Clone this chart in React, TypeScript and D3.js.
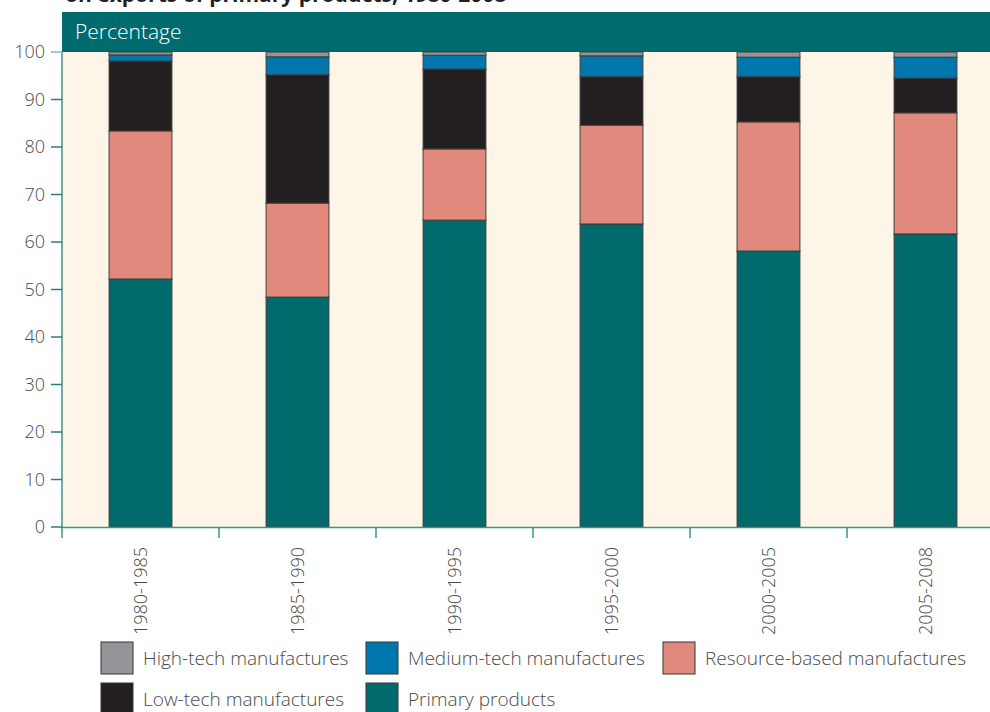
import React from "react";
import * as d3 from "d3";

const categories = ["1980-1985", "1985-1990", "1990-1995", "1995-2000", "2000-2005", "2005-2008"];
const primary = [52.2, 48.4, 64.6, 63.8, 58.1, 61.7];
const resource = [31.2, 19.8, 15.0, 20.8, 27.2, 25.5];
const lowTech = [14.7, 27.0, 16.8, 10.2, 9.5, 7.3];
const mediumTech = [1.3, 3.8, 2.9, 4.4, 4.1, 4.4];
const highTech = [0.6, 1.0, 0.7, 0.8, 1.1, 1.1];
const yTicks = [0, 10, 20, 30, 40, 50, 60, 70, 80, 90, 100];

const seriesNames = ["Primary products", "Resource-based manufactures", "Low-tech manufactures", "Medium-tech manufactures", "High-tech manufactures"];
const seriesColors = ["#006a6d", "#e0897c", "#231f20", "#0077ac", "#939598"];

export default function App() {
  const left = 62, right = 1004, top = 52, bottom = 527;
  const x = d3.scaleBand().domain(categories).range([left, right]).paddingInner(0.6).paddingOuter(0.3);
  const xOuter = d3.scaleBand().domain(categories).range([left, right]);
  const y = d3.scaleLinear().domain([0, 100]).range([bottom, top]);
  const rows = categories.map((c, i) => ({ cat: c, s0: primary[i], s1: resource[i], s2: lowTech[i], s3: mediumTech[i], s4: highTech[i] }));
  const stack = d3.stack<any>().keys(["s0", "s1", "s2", "s3", "s4"])(rows);
  const font = "'Open Sans', 'Noto Sans', sans-serif";
  const txt = "#4a4a4a";

  const legend = [
    { name: seriesNames[4], color: seriesColors[4], x: 101, y: 642 },
    { name: seriesNames[3], color: seriesColors[3], x: 366, y: 642 },
    { name: seriesNames[1], color: seriesColors[1], x: 663, y: 642 },
    { name: seriesNames[2], color: seriesColors[2], x: 101, y: 683 },
    { name: seriesNames[0], color: seriesColors[0], x: 366, y: 683 },
  ];

  return (
    <svg width={990} height={712} style={{ position: "absolute", left: 0, top: 0, background: "#fff" }} fontFamily={font}>
      <text x={65} y={2} fontSize={21} fontWeight="bold" fill="#231f20">on exports of primary products, 1980-2008</text>
      <rect x={left} y={12} width={990 - left} height={top - 12} fill="#006b6e" />
      <text x={75} y={39} fontSize={21} fill="#ffffff" fontWeight={300}>Percentage</text>
      <rect x={left} y={top} width={990 - left} height={bottom - top} fill="#fdf5e8" />
      {stack.map((layer, li) => (
        <g key={li}>
          {layer.map((d: any, i: number) => (
            <rect key={i} x={x(categories[i])!} width={x.bandwidth()} y={y(d[1])} height={y(d[0]) - y(d[1])}
              fill={seriesColors[li]} stroke="#3a3a3a" strokeOpacity={0.75} strokeWidth={1.3} />
          ))}
        </g>
      ))}
      {/* y axis */}
      <line x1={left} x2={left} y1={top} y2={538} stroke="#3d9190" strokeWidth={1.5} />
      {yTicks.map((t) => (
        <g key={t}>
          <line x1={51} x2={left} y1={y(t)} y2={y(t)} stroke={t === 100 ? "#7fb8b8" : "#2a7f80"} strokeWidth={1.5} />
          <text x={45} y={y(t)} dy="0.35em" textAnchor="end" fontSize={18} fill={txt} fontWeight={300}>{t}</text>
        </g>
      ))}
      {/* x axis */}
      <line x1={left} x2={990} y1={bottom + 0.5} y2={bottom + 0.5} stroke="#3d9190" strokeWidth={1.5} />
      {categories.map((c, i) => (
        <g key={c}>
          {i > 0 && <line x1={xOuter(c)!} x2={xOuter(c)!} y1={bottom} y2={538} stroke="#3d9190" strokeWidth={1.5} />}
          <text transform={`translate(${x(c)! + x.bandwidth() / 2},547) rotate(-90)`} textAnchor="end" dy="0.35em" fontSize={18} fill={txt} fontWeight={300}>{c}</text>
        </g>
      ))}
      {legend.map((l) => (
        <g key={l.name}>
          <rect x={l.x} y={l.y} width={32} height={32} fill={l.color} stroke="#3a3a3a" strokeOpacity={0.8} strokeWidth={1.3} />
          <text x={l.x + 42} y={l.y + 16} dy="0.35em" fontSize={19} fill={txt} fontWeight={300}>{l.name}</text>
        </g>
      ))}
    </svg>
  );
}
